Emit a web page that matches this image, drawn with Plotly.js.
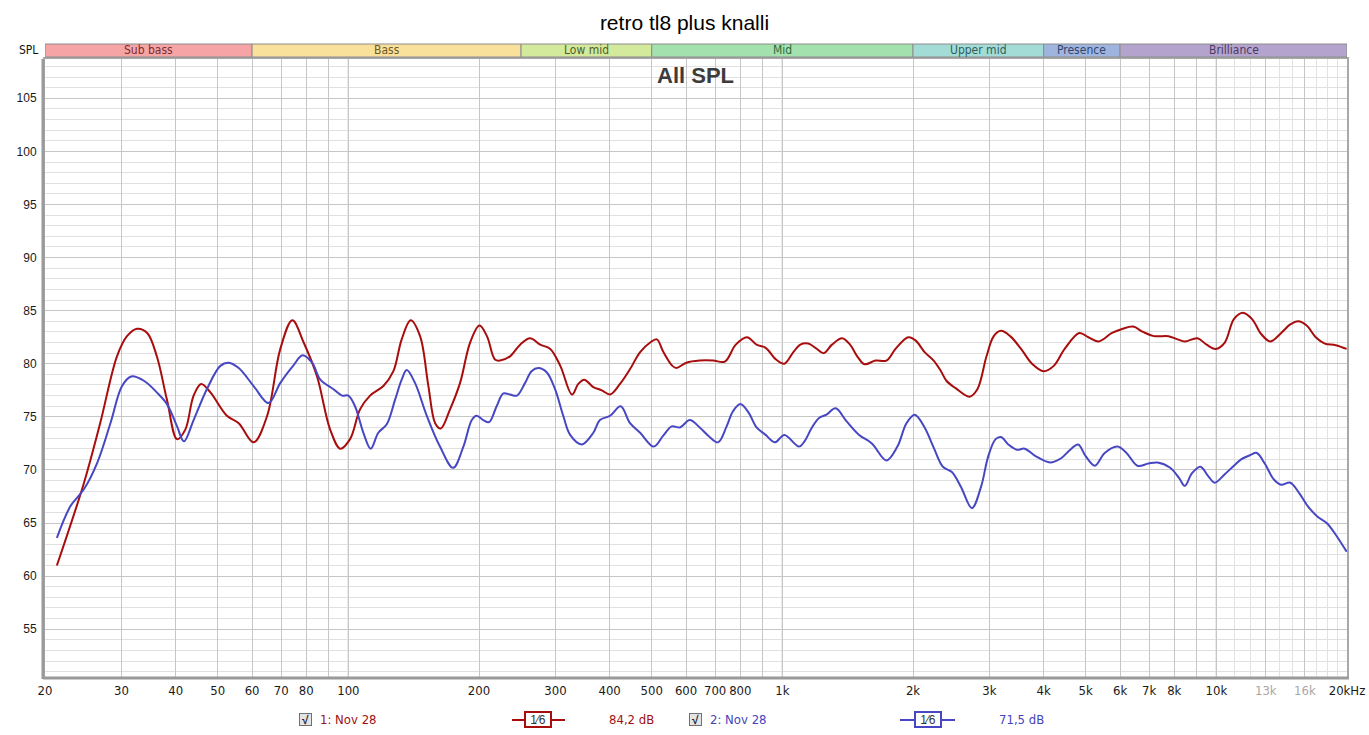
<!DOCTYPE html>
<html>
<head>
<meta charset="utf-8">
<script src="https://cdn.plot.ly/plotly-3.0.1.min.js"></script>
<style>
html, body { margin: 0; padding: 0; background: #fff; }
#myDiv { width: 1369px; height: 735px; }
</style>
</head>
<body>
<div id="myDiv"></div>
<script>
var CHART_TITLE = "retro tl8 plus knalli";
var GRAPH_NAME = "All SPL";

// measurement 1 (red)
var freq1 = [21.3, 24.6, 26.8, 29.3, 30.9, 32.6, 34.4, 36.2, 38.2, 40.3, 42.1, 44.0, 45.8, 48.1, 52.5, 55.9, 60.5, 65.0, 69.7, 74.3,
        78.9, 84.7, 90.8, 95.8, 100.9, 106.4, 112.2, 120.4, 127.0, 132.7, 139.2, 146.3, 152.9, 158.5, 163.3, 171.5, 180.9, 190.8, 200.5, 208.6,
        217.7, 223.6, 235.8, 248.8, 262.3, 276.7, 291.9, 307.9, 327.6, 338.6, 349.5, 366.8, 383.8, 401, 422.6, 445.8, 470.2, 496, 513.7, 532,
        558, 570, 601, 645, 693, 737, 781, 829, 872, 915, 967, 1011, 1060, 1100, 1147, 1192, 1246, 1301, 1373, 1432,
        1488, 1547, 1639, 1737, 1823, 1950, 2027, 2127, 2232, 2320, 2388, 2507, 2698, 2814, 2954, 3070, 3190, 3349, 3548, 3761,
        4000, 4221, 4472, 4832, 5070, 5352, 5748, 6089, 6431, 6775, 7178, 7755, 8139, 8458, 9047, 9496, 9965, 10458, 10975, 11518,
        12087, 12685, 13311, 14105, 14801, 15441, 16144, 16941, 17780, 18838, 19963];
var spl1 = [61.0, 68.8, 74.4, 80.7, 82.6, 83.3, 82.9, 80.7, 76.6, 72.9, 73.8, 77.0, 78.1, 77.3, 75.1, 74.4, 72.6, 75.1, 81.4, 84.1,
        82.0, 78.8, 73.8, 72.0, 72.9, 75.7, 77.0, 77.9, 79.3, 82.3, 84.1, 82.6, 77.9, 74.4, 73.9, 75.7, 78.2, 82.0, 83.6, 82.6,
        80.4, 80.3, 80.7, 81.8, 82.4, 81.8, 81.4, 79.8, 77.1, 78.1, 78.5, 77.8, 77.5, 77.1, 78.1, 79.5, 81.1, 82.0, 82.3, 81.1,
        79.8, 79.6, 80.1, 80.3, 80.3, 80.2, 81.8, 82.5, 81.8, 81.5, 80.4, 80.0, 81.1, 81.8, 81.9, 81.5, 81.0, 81.8, 82.4, 81.8,
        80.7, 79.95, 80.3, 80.3, 81.4, 82.5, 82.2, 81.1, 80.3, 79.3, 78.4, 77.7, 76.9, 77.6, 80.7, 82.6, 83.1, 82.6, 81.4, 80.0,
        79.3, 79.8, 81.4, 82.9, 82.5, 82.1, 82.9, 83.3, 83.5, 83.0, 82.6, 82.6, 82.3, 82.1, 82.4, 81.8, 81.4, 82.0, 84.2, 84.8,
        84.2, 82.8, 82.1, 82.9, 83.7, 84.0, 83.6, 82.5, 81.9, 81.75, 81.4];

// measurement 2 (blue)
var freq2 = [21.3, 22.9, 24.6, 26.4, 28.3, 30.1, 31.6, 33.8, 36.2, 38.2, 40.3, 41.8, 44.0, 47.2, 50.7, 53.0, 55.9, 60.5, 65.5, 69.7,
        74.9, 78.4, 82.5, 86.2, 92.4, 96.7, 100, 103.6, 108.3, 112.6, 117.2, 122.6, 128.1, 132.7, 136.3, 142.4, 151.6, 162.6, 174.4, 184.1,
        192.5, 197.5, 204.5, 211, 219.6, 227.6, 235.8, 244.6, 255.4, 264.3, 274, 286.4, 299.4, 312.7, 324.4, 345.1, 366.8, 379.9, 401, 424,
        445.8, 470.2, 505.6, 531, 556, 581, 612, 645, 676, 711, 744, 769, 800, 836, 872, 915, 961, 1011, 1092, 1125,
        1170, 1215, 1264, 1326, 1405, 1503, 1608, 1737, 1841, 1932, 2019, 2127, 2232, 2343, 2458, 2580, 2734, 2869, 2982, 3100,
        3190, 3316, 3468, 3618, 3831, 4140, 4388, 4605, 4804, 4998, 5250, 5530, 5917, 6209, 6578, 6973, 7317, 7827, 8216, 8458,
        8790, 9190, 9586, 9908, 10458, 10975, 11405, 11968, 12393, 12929, 13570, 14105, 14801, 15534, 16304, 17107, 17954, 18838, 19963];
var spl2 = [63.6, 66.6, 68.2, 70.7, 74.4, 77.9, 78.8, 78.4, 77.3, 76.2, 74.1, 72.7, 74.7, 77.6, 79.8, 80.1, 79.6, 77.9, 76.3, 78.2,
        79.9, 80.8, 80.1, 78.5, 77.6, 77.0, 77.0, 76.0, 73.5, 72.0, 73.5, 74.3, 76.6, 78.5, 79.4, 78.2, 75.1, 72.2, 70.2, 72.2,
        74.7, 75.1, 74.7, 74.5, 76.0, 77.2, 77.1, 77.0, 78.2, 79.3, 79.6, 79.2, 77.6, 75.1, 73.3, 72.4, 73.5, 74.7, 75.1, 76.0,
        74.4, 73.5, 72.2, 73.2, 74.1, 74.0, 74.7, 74.0, 73.2, 72.6, 74.1, 75.5, 76.2, 75.4, 74.0, 73.3, 72.6, 73.3, 72.2, 72.7,
        74.0, 74.9, 75.2, 75.8, 74.6, 73.3, 72.5, 70.9, 72.2, 74.4, 75.2, 74.0, 72.1, 70.3, 69.8, 68.4, 66.4, 68.4, 71.3, 72.9,
        73.1, 72.4, 71.9, 72.0, 71.3, 70.7, 71.1, 71.9, 72.4, 71.3, 70.4, 71.6, 72.2, 71.6, 70.4, 70.6, 70.7, 70.2, 69.2, 68.5,
        69.7, 70.3, 69.4, 68.8, 69.6, 70.4, 71.0, 71.4, 71.6, 70.6, 69.1, 68.6, 68.8, 67.8, 66.5, 65.6, 65.0, 63.9, 62.3];

var seriesNames = ["1: Nov 28", "2: Nov 28"];
var seriesLevels = ["84,2 dB", "71,5 dB"];
var seriesSmoothing = ["1\u20446", "1\u20446"];

// frequency bands along the top
var bandNames = ["Sub bass", "Bass", "Low mid", "Mid", "Upper mid", "Presence", "Brilliance"];
var bandEdges = [20, 60, 250, 500, 2000, 4000, 6000, 20000];

var xTickValues = [20, 30, 40, 50, 60, 70, 80, 90, 100, 200, 300, 400, 500, 600, 700, 800, 900,
        1000, 2000, 3000, 4000, 5000, 6000, 7000, 8000, 9000, 10000, 13000, 16000, 20000];
var xTickLabels = ["20", "30", "40", "50", "60", "70", "80", "", "100", "200", "300", "400", "500", "600", "700", "800", "",
        "1k", "2k", "3k", "4k", "5k", "6k", "7k", "8k", "", "10k", "13k", "16k", "20kHz"];
var xMinorValues = [11000, 12000, 14000, 15000, 17000, 18000, 19000];
var xDecadeValues = [100, 1000, 10000];
var yTickValues = [55, 60, 65, 70, 75, 80, 85, 90, 95, 100, 105];

var COLORS = ["#a80d0d", "#4747c4"];
var TEXT_COLORS = ["#a01010", "#4444bb"];
var BAND_FILL = ["#f7a4a7", "#f9e19c", "#d3e99c", "#a3e2ae", "#a3dcd7", "#9fb5dd", "#b4a3cc"];
var BAND_TEXT = ["#7a2f2f", "#6e5a25", "#4f5f25", "#2f6a3c", "#2f5f5c", "#2f4670", "#4c3a64"];
var NARROW = "'Liberation Sans Narrow', 'DejaVu Sans Condensed', 'Arial Narrow', sans-serif";
var SANS = "'Liberation Sans', Arial, sans-serif";

// pixel helpers for the paper space (plot area 45..1347 x 59..677)
function px(x) { return (x - 45) / 1302; }
function py(y) { return (677 - y) / 618; }

function makeTraces()
{
        var data = [];
        var freqs = [freq1, freq2];
        var spls = [spl1, spl2];
        for (var i = 0; i < 2; i++)
        {
                data.push({
                        x: freqs[i],
                        y: spls[i],
                        mode: 'lines',
                        type: 'scatter',
                        name: seriesNames[i],
                        line: {color: COLORS[i], width: 2, shape: 'spline', smoothing: 1},
                        hoverinfo: 'x+y'
                });
        }
        return data;
}

function makeShapes()
{
        var shapes = [];

        // darker decade lines
        for (var i = 0; i < xDecadeValues.length; i++)
        {
                shapes.push({type: 'line', xref: 'x', yref: 'paper', x0: xDecadeValues[i], x1: xDecadeValues[i],
                        y0: 0, y1: 1, layer: 'below', line: {color: '#7c7c7c', width: 1}});
        }

        // band bar
        for (var b = 0; b < bandNames.length; b++)
        {
                shapes.push({type: 'rect', xref: 'x', yref: 'paper', x0: bandEdges[b], x1: bandEdges[b + 1],
                        y0: py(57), y1: py(44), fillcolor: BAND_FILL[b], line: {color: '#8c8c8c', width: 1}});
        }

        // frame shadow on the left and bottom
        shapes.push({type: 'line', xref: 'paper', yref: 'paper', x0: px(43), x1: px(43), y0: py(679), y1: py(59),
                line: {color: '#9a9a9a', width: 3}});
        shapes.push({type: 'line', xref: 'paper', yref: 'paper', x0: px(43), x1: px(1349), y0: py(678), y1: py(678),
                line: {color: '#9a9a9a', width: 3}});

        // legend line symbols
        var symX = [[512, 565], [900, 955]];
        for (var s = 0; s < 2; s++)
        {
                shapes.push({type: 'line', xref: 'paper', yref: 'paper', x0: px(symX[s][0]), x1: px(symX[s][1]),
                        y0: py(720), y1: py(720), line: {color: COLORS[s], width: 2}});
        }
        return shapes;
}

function label(text, x, y, font, extra)
{
        var a = {text: text, xref: 'paper', yref: 'paper', x: x, y: y, xanchor: 'center', yanchor: 'middle',
                showarrow: false, font: font};
        for (var k in extra) a[k] = extra[k];
        return a;
}

function makeAnnotations()
{
        var ann = [];

        ann.push(label(GRAPH_NAME, px(695), py(76), {family: SANS, size: 22, color: '#3c3c3c', weight: 'bold'}, {}));
        ann.push(label("SPL", px(28), py(50), {family: NARROW, size: 12, color: '#111'}, {}));

        for (var b = 0; b < bandNames.length; b++)
        {
                var mid = Math.sqrt(bandEdges[b] * bandEdges[b + 1]);
                ann.push(label(bandNames[b], Math.log10(mid), py(50.5), {family: NARROW, size: 12, color: BAND_TEXT[b]},
                        {xref: 'x'}));
        }

        // bottom legend row
        var boxX = [305, 695];
        var nameX = [318, 708];
        var symX = [538, 928];
        var levelX = [631, 1021];
        for (var i = 0; i < 2; i++)
        {
                ann.push(label("<b>\u221A</b>", px(boxX[i]), py(720), {family: SANS, size: 12, color: '#222'},
                        {width: 11, height: 11, bgcolor: '#e4e4e4', bordercolor: '#707070', borderwidth: 1, borderpad: 0}));
                ann.push(label(seriesNames[i], px(nameX[i]), py(720), {family: NARROW, size: 13, color: TEXT_COLORS[i]},
                        {xanchor: 'left'}));
                ann.push(label(seriesSmoothing[i], px(symX[i]), py(720), {family: SANS, size: 12, color: '#333'},
                        {width: 24, height: 13, bgcolor: '#fff', bordercolor: COLORS[i], borderwidth: 2, borderpad: 0}));
                ann.push(label(seriesLevels[i], px(levelX[i]), py(720), {family: NARROW, size: 13, color: TEXT_COLORS[i]}, {}));
        }
        return ann;
}

function printGraph()
{
        var tickText = [];
        for (var i = 0; i < xTickLabels.length; i++)
        {
                if (xTickValues[i] == 13000 || xTickValues[i] == 16000)
                        tickText.push('<span style="color:#a8a8a8">' + xTickLabels[i] + '</span>');
                else
                        tickText.push(xTickLabels[i]);
        }

        var layout = {
                width: 1369,
                height: 735,
                margin: {l: 45, r: 22, t: 59, b: 58},
                paper_bgcolor: '#fff',
                plot_bgcolor: '#fff',
                showlegend: false,
                title: {text: CHART_TITLE, xref: 'container', x: 0.5, y: 1 - 23 / 735, yanchor: 'middle',
                        font: {family: SANS, size: 21, color: '#000'}},
                xaxis: {
                        type: 'log',
                        range: [Math.log10(20), Math.log10(20000)],
                        tickmode: 'array',
                        tickvals: xTickValues,
                        ticktext: tickText,
                        ticks: '',
                        showgrid: true,
                        gridcolor: '#c6c6c6',
                        gridwidth: 1,
                        minor: {tickmode: 'array', tickvals: xMinorValues, showgrid: true, gridcolor: '#e2e2e2', ticks: ''},
                        showline: true,
                        linecolor: '#a8a8a8',
                        linewidth: 2,
                        mirror: true,
                        zeroline: false,
                        tickfont: {family: NARROW, size: 13, color: '#1a1a1a'}
                },
                yaxis: {
                        range: [50.5, 108.7],
                        tickmode: 'array',
                        tickvals: yTickValues,
                        ticks: '',
                        showgrid: true,
                        gridcolor: '#c6c6c6',
                        minor: {dtick: 1, showgrid: true, gridcolor: '#e0e0e0', ticks: ''},
                        showline: true,
                        linecolor: '#a8a8a8',
                        linewidth: 2,
                        mirror: true,
                        zeroline: false,
                        ticklabelstandoff: 4,
                        tickfont: {family: SANS, size: 12, color: '#1a1a1a'}
                },
                shapes: makeShapes(),
                annotations: makeAnnotations()
        };

        Plotly.newPlot('myDiv', makeTraces(), layout, {displayModeBar: false, staticPlot: true});
}

printGraph();
</script>
</body>
</html>
